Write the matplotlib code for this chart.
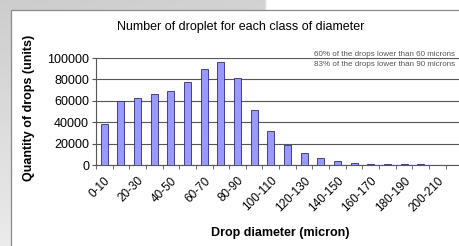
import numpy as np
import matplotlib
matplotlib.use("Agg")
import matplotlib.pyplot as plt
from matplotlib.patches import Rectangle

plt.rcParams['font.family'] = ['Liberation Sans', 'DejaVu Sans']

# Data
classes = ["0-10", "10-20", "20-30", "30-40", "40-50", "50-60", "60-70", "70-80",
           "80-90", "90-100", "100-110", "110-120", "120-130", "130-140", "140-150",
           "150-160", "160-170", "170-180", "180-190", "190-200", "200-210"]
counts = [38000, 59500, 62500, 66000, 69500, 77200, 90000, 96300, 81000, 51500,
          31500, 18400, 11500, 6300, 4000, 2200, 1200, 800, 600, 500, 400]
notes = ["60% of the drops lower than 60 microns",
         "83% of the drops lower than 90 microns"]

fig = plt.figure(figsize=(4.6, 2.46), dpi=100)

# grey backdrop photo on the left part, white on the right
bg = fig.add_axes([0, 0, 1, 1], zorder=-10)
yy, xx = np.mgrid[0:1:123j, 0:1:230j]
shade = 0.80 + 0.12 * yy + 0.04 * xx
shade[xx > 267 / 460] = 1.0
bg.imshow(shade, cmap="gray", vmin=0, vmax=1, aspect="auto",
          extent=[0, 1, 0, 1], origin="upper", interpolation="bilinear")
bg.axis("off")

# white chart area
fig.patches.append(Rectangle((11 / 460, -0.1), 1.0, 1 - 10 / 246 + 0.1,
                             transform=fig.transFigure, facecolor="white",
                             edgecolor="#8a8a8a", linewidth=0.9, zorder=-5))

ax = fig.add_axes([96 / 460, 81 / 246, 364 / 460, 107 / 246])
ax.set_facecolor("none")
x = np.arange(len(classes))
ax.bar(x, counts, width=0.42, color="#9999FF", edgecolor="#2a2a7a",
       linewidth=0.6, zorder=3)

ax.set_xlim(-0.5, -0.5 + 364 / 16.65)
ax.set_ylim(0, 100000)
ax.set_yticks(range(0, 100001, 20000))
ax.yaxis.grid(True, color="#555555", linewidth=0.8, zorder=0)

ax.set_xticks(x[::2])
ax.set_xticklabels(classes[::2], rotation=45, ha="right",
                   rotation_mode="anchor", fontsize=8.5)
ax.set_xticks(np.arange(-0.5, len(classes) + 0.5), minor=True)
ax.tick_params(axis="x", which="major", length=0, pad=7)
ax.tick_params(axis="x", which="minor", length=3, color="#555555")
ax.tick_params(axis="y", length=3, color="#555555", labelsize=9, pad=2)

for side in ["top", "right"]:
    ax.spines[side].set_visible(False)
for side in ["left", "bottom"]:
    ax.spines[side].set_color("#555555")
    ax.spines[side].set_linewidth(0.8)

fig.text(241 / 460, 1 - 27 / 246, "Number of droplet for each class of diameter",
         ha="center", va="center", fontsize=9)
fig.text(29 / 460, 1 - 108 / 246, "Quantity of drops (units)", rotation=90,
         ha="center", va="center", fontsize=9, fontweight="bold")
fig.text(280 / 460, 1 - 233 / 246, "Drop diameter (micron)",
         ha="center", va="center", fontsize=9, fontweight="bold")

fig.text(455 / 460, 1 - 54 / 246, notes[0], ha="right", va="center",
         fontsize=5.8, color="#555555", family=["Liberation Sans Narrow", "Liberation Sans"])
fig.text(455 / 460, 1 - 65 / 246, notes[1], ha="right", va="center",
         fontsize=5.8, color="#555555", family=["Liberation Sans Narrow", "Liberation Sans"])

fig.savefig("out.png", dpi=100)
